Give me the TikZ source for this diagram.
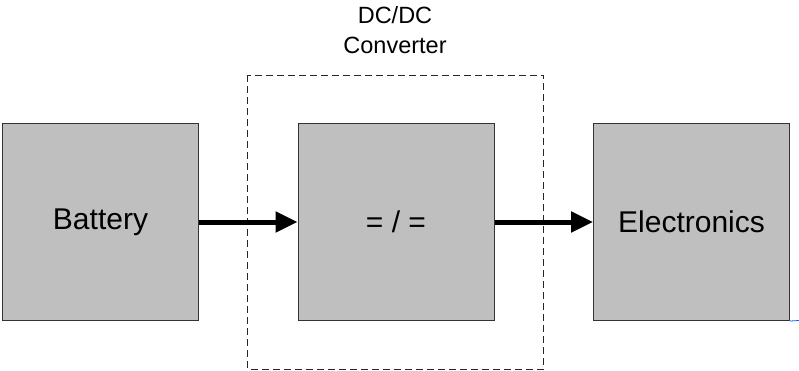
\documentclass[tikz,border=0pt]{standalone}
\usepackage{fontspec}
\setmainfont{Liberation Sans}
\usetikzlibrary{arrows.meta}
\begin{document}
\begin{tikzpicture}[x=1pt,y=-1pt,
  block/.style={draw=black!80, line width=1pt, fill=black!25, minimum width=196pt, minimum height=197pt, inner sep=0pt, font=\fontsize{30}{32}\selectfont},
  flow/.style={line width=5pt, -{Triangle[length=22pt,width=20pt]}},
  frame/.style={draw=black!85, line width=1pt, dash pattern=on 7pt off 4pt}]
  \useasboundingbox (0,0) rectangle (799,370);
  % converter enclosure
  \draw[frame] (247.5,75) rectangle (543.5,369);
  \node[font=\fontsize{23.5}{30}\selectfont, align=center] (lbl) at (395,30) {DC/DC\\Converter};
  % blocks
  \node[block, anchor=north west] (bat) at (2,123) {Battery};
  \node[block, anchor=north west] (conv) at (297.5,123) {= / =};
  \node[block, anchor=north west] (elec) at (593,123) {Electronics};
  % power flow
  \draw[flow] (bat.east) -- (conv.west);
  \draw[flow] (conv.east) -- (elec.west);
  % small blue tick at the lower right corner
  \coordinate (tickend) at (799,320.5);
  \draw[blue!60!cyan, line width=0.8pt] (elec.south east) -- (tickend);
\end{tikzpicture}
\end{document}
